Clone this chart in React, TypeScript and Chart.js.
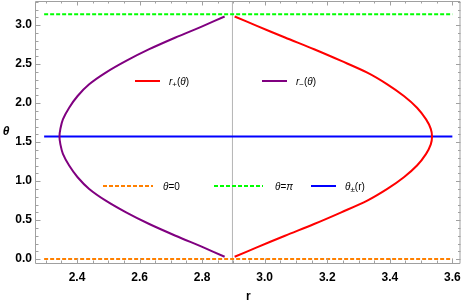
import React, { useEffect, useRef } from 'react';
import { Chart, registerables } from 'chart.js';
Chart.register(...registerables);

// ---- data ----
const thetaValues = [0.03, 0.15, 0.3, 0.45, 0.6, 0.75, 0.9, 1.05, 1.2, 1.35, 1.4708, 1.5708, 1.6708, 1.7916, 1.9416, 2.0916, 2.2416, 2.3916, 2.5416, 2.6916, 2.8416, 2.9916, 3.1116];
const rPlusValues = [2.904, 2.975, 3.065, 3.158, 3.245, 3.328, 3.392, 3.445, 3.487, 3.516, 3.531, 3.535, 3.531, 3.516, 3.487, 3.445, 3.392, 3.328, 3.245, 3.158, 3.065, 2.975, 2.904];
const rMinusValues = [2.872, 2.804, 2.715, 2.631, 2.557, 2.492, 2.439, 2.402, 2.375, 2.355, 2.347, 2.344, 2.347, 2.355, 2.375, 2.402, 2.439, 2.492, 2.557, 2.631, 2.715, 2.804, 2.872];
const thetaZeroLevel = 0;
const thetaPiLevel = 3.14159;
const thetaPmLevel = 1.5708;
const horizontalSpanR = [2.295, 3.6];
const verticalLineR = 2.897;
const xRange = [2.269, 3.626];
const yRange = [-0.05, 3.31];
const xMajorStep = 0.2;
const xMinorStep = 0.05;
const yMajorStep = 0.5;
const yMinorStep = 0.1;

const RED = 'rgb(255,0,0)';
const PURPLE = 'rgb(128,0,128)';
const BLUE = 'rgb(0,0,255)';
const ORANGE = 'rgb(255,128,0)';
const GREEN = 'rgb(0,255,0)';
const FRAME = 'rgb(160,160,160)';

type Run = { t: string; style?: 'i' | 'n'; sub?: boolean };

function drawRuns(ctx: CanvasRenderingContext2D, x: number, y: number, runs: Run[]) {
  let cx = x;
  for (const r of runs) {
    const size = r.sub ? 8 : 10;
    ctx.font = `${r.style === 'i' ? 'italic ' : ''}${size}px "Liberation Sans", Arial, sans-serif`;
    ctx.textBaseline = 'middle';
    ctx.fillStyle = '#000';
    ctx.fillText(r.t, cx, y + (r.sub ? 3 : 0));
    cx += ctx.measureText(r.t).width;
  }
}

const decorPlugin = {
  id: 'decor',
  afterDraw(chart: any) {
    const { ctx, chartArea, scales } = chart;
    const { left, right, top, bottom } = chartArea;
    const xs = scales.x;
    const ys = scales.y;
    ctx.save();
    ctx.strokeStyle = FRAME;
    ctx.lineWidth = 1;
    ctx.beginPath();
    ctx.rect(left - 0.5, top + 0.5, right - left, bottom - top);
    ctx.stroke();
    const tick = (x1: number, y1: number, x2: number, y2: number) => {
      ctx.moveTo(x1, y1);
      ctx.lineTo(x2, y2);
    };
    ctx.beginPath();
    for (let k = Math.ceil(xRange[0] / xMinorStep); k * xMinorStep <= xRange[1]; k++) {
      const v = k * xMinorStep;
      const major = Math.abs(v / xMajorStep - Math.round(v / xMajorStep)) < 1e-6;
      const len = major ? 4.5 : 2.5;
      const px = Math.round(xs.getPixelForValue(v)) + 0.5;
      tick(px, bottom, px, bottom - len);
      tick(px, top, px, top + len);
    }
    for (let k = Math.ceil(yRange[0] / yMinorStep); k * yMinorStep <= yRange[1]; k++) {
      const v = k * yMinorStep;
      const major = Math.abs(v / yMajorStep - Math.round(v / yMajorStep)) < 1e-6;
      const len = major ? 4.5 : 2.5;
      const py = Math.round(ys.getPixelForValue(v)) + 0.5;
      tick(left, py, left + len, py);
      tick(right, py, right - len, py);
    }
    ctx.stroke();

    ctx.fillStyle = '#000';
    ctx.font = 'italic bold 12px "Liberation Sans", Arial, sans-serif';
    ctx.textAlign = 'center';
    ctx.textBaseline = 'middle';
    ctx.fillText('θ', 6, (top + bottom) / 2);
    ctx.textAlign = 'left';

    const seg = (x1: number, x2: number, y: number, color: string, dash: number[]) => {
      ctx.beginPath();
      ctx.setLineDash(dash);
      ctx.strokeStyle = color;
      ctx.lineWidth = 2;
      ctx.moveTo(x1, y);
      ctx.lineTo(x2, y);
      ctx.stroke();
      ctx.setLineDash([]);
    };
    seg(135, 160, 81, RED, []);
    drawRuns(ctx, 169, 82, [{ t: 'r', style: 'i' }, { t: '+', sub: true }, { t: '(' }, { t: 'θ', style: 'i' }, { t: ')' }]);
    seg(262, 287, 81, PURPLE, []);
    drawRuns(ctx, 296, 82, [{ t: 'r', style: 'i' }, { t: '−', sub: true }, { t: '(' }, { t: 'θ', style: 'i' }, { t: ')' }]);
    seg(103, 153, 186, ORANGE, [4, 2]);
    drawRuns(ctx, 163, 187, [{ t: 'θ', style: 'i' }, { t: '=0' }]);
    seg(214, 263, 186, GREEN, [4, 2]);
    drawRuns(ctx, 275, 187, [{ t: 'θ', style: 'i' }, { t: '=' }, { t: 'π', style: 'i' }]);
    seg(311, 336, 186, BLUE, []);
    drawRuns(ctx, 345, 187, [{ t: 'θ', style: 'i' }, { t: '±', sub: true }, { t: '(r)' }]);
    ctx.restore();
  },
};

export default function App() {
  const ref = useRef<HTMLCanvasElement | null>(null);
  useEffect(() => {
    if (!ref.current) return;
    const curve = (vals: number[]) => vals.map((r, i) => ({ x: r, y: thetaValues[i] }));
    const hline = (level: number) => horizontalSpanR.map((r) => ({ x: r, y: level }));
    const chart = new Chart(ref.current, {
      type: 'scatter',
      data: {
        datasets: [
          { label: 'r+', data: curve(rPlusValues), borderColor: RED, borderWidth: 2, showLine: true, pointRadius: 0, tension: 0.3, order: 1 },
          { label: 'r-', data: curve(rMinusValues), borderColor: PURPLE, borderWidth: 2, showLine: true, pointRadius: 0, tension: 0.3, order: 1 },
          { label: 'θ±', data: hline(thetaPmLevel), borderColor: BLUE, borderWidth: 2, showLine: true, pointRadius: 0, order: 2 },
          { label: 'θ=0', data: hline(thetaZeroLevel), borderColor: ORANGE, borderWidth: 2, borderDash: [4, 2], showLine: true, pointRadius: 0, order: 2 },
          { label: 'θ=π', data: hline(thetaPiLevel), borderColor: GREEN, borderWidth: 2, borderDash: [4, 2], showLine: true, pointRadius: 0, order: 2 },
          { label: 'v', data: [{ x: verticalLineR, y: yRange[0] }, { x: verticalLineR, y: yRange[1] }], borderColor: 'rgb(180,180,180)', borderWidth: 1, showLine: true, pointRadius: 0, order: 3 },
        ] as any,
      },
      options: {
        animation: false,
        responsive: true,
        maintainAspectRatio: false,
        layout: { padding: { top: 1, right: 2.5, left: 0, bottom: 0 } },
        plugins: { legend: { display: false }, tooltip: { enabled: false } },
        scales: {
          x: {
            type: 'linear',
            min: xRange[0],
            max: xRange[1],
            grid: { display: false, drawTicks: false },
            border: { display: false },
            ticks: {
              stepSize: xMajorStep,
              includeBounds: false,
              padding: 7,
              color: '#000',
              font: { family: '"Liberation Sans", Arial, sans-serif', size: 12, weight: 'bold' },
              callback: (v: any) => Number(v).toFixed(1),
              maxRotation: 0,
              autoSkip: false,
            },
            title: { display: true, text: 'r', color: '#000', font: { family: '"Liberation Sans", Arial, sans-serif', size: 12, weight: 'bold' }, padding: { top: 0, bottom: 2 } },
            afterFit: (s: any) => { s.height = 43; s.paddingLeft = 0; s.paddingRight = 0; },
          },
          y: {
            type: 'linear',
            min: yRange[0],
            max: yRange[1],
            grid: { display: false, drawTicks: false },
            border: { display: false },
            ticks: {
              stepSize: yMajorStep,
              includeBounds: false,
              padding: 4,
              color: '#000',
              font: { family: '"Liberation Sans", Arial, sans-serif', size: 12, weight: 'bold' },
              callback: (v: any) => Number(v).toFixed(1),
              autoSkip: false,
            },
            afterFit: (s: any) => { s.width = 36; s.paddingTop = 0; s.paddingBottom = 0; },
          },
        },
      } as any,
      plugins: [decorPlugin],
    });
    return () => chart.destroy();
  }, []);
  return (
    <div style={{ position: 'fixed', left: 0, top: 0, width: 463, height: 306, background: '#fff' }}>
      <canvas ref={ref} />
    </div>
  );
}
